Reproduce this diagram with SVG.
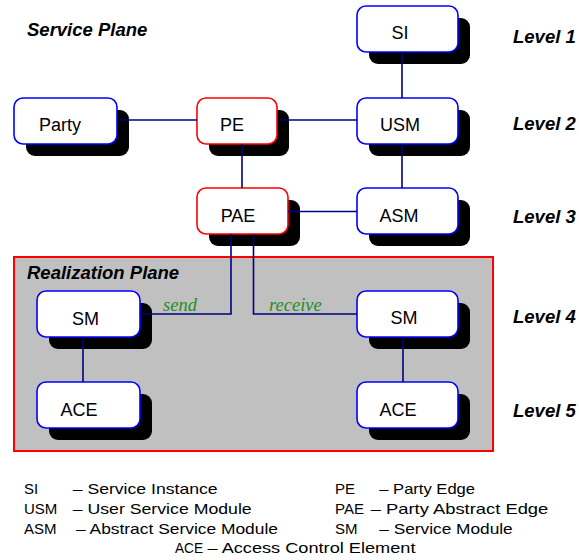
<svg xmlns="http://www.w3.org/2000/svg" width="579" height="560" viewBox="0 0 579 560">
<style>
.sh{fill:#000}
.bb{fill:#fff;stroke:#0000ff;stroke-width:1.6}
.rb{fill:#fff;stroke:#ff0000;stroke-width:1.6}
.nt{font-family:"Liberation Sans",Arial,sans-serif;font-size:18px;fill:#000;text-anchor:middle}
.ttl{font-family:"Liberation Sans",Arial,sans-serif;font-size:18.5px;font-weight:bold;font-style:italic;fill:#000}
.lbl{font-family:"Liberation Serif","Times New Roman",serif;font-size:18.5px;font-style:italic;fill:#1f8f1f}
.lg{font-family:"Liberation Sans",Arial,sans-serif;font-size:15px;fill:#000}
.cn{fill:none;stroke:#000080;stroke-width:1.6}
</style>
<rect id="realization-plane" x="14" y="257" width="479" height="194" fill="#c0c0c0" stroke="#ff0000" stroke-width="2"/>
<text class="ttl" x="27" y="36">Service Plane</text>
<text class="ttl" x="27" y="279">Realization Plane</text>
<g id="levels">
<text class="ttl" x="513" y="43">Level 1</text>
<text class="ttl" x="513" y="130">Level 2</text>
<text class="ttl" x="513" y="223">Level 3</text>
<text class="ttl" x="513" y="323">Level 4</text>
<text class="ttl" x="513" y="417">Level 5</text>
</g>
<g id="node-SI"><rect class="sh" x="369" y="18" width="101" height="46" rx="9"/><rect class="bb" x="357" y="6" width="101" height="46" rx="9"/><text class="nt" x="400" y="39">SI</text></g>
<g id="node-USM"><rect class="sh" x="369" y="110" width="101" height="46" rx="9"/><rect class="bb" x="357" y="98" width="101" height="46" rx="9"/><text class="nt" x="400" y="131">USM</text></g>
<g id="node-Party"><rect class="sh" x="26" y="110" width="103" height="46" rx="9"/><rect class="bb" x="14" y="98" width="103" height="46" rx="9"/><text class="nt" x="60" y="131">Party</text></g>
<g id="node-PE"><rect class="sh" x="209" y="110" width="80" height="46" rx="9"/><rect class="rb" x="197" y="98" width="80" height="46" rx="9"/><text class="nt" x="232" y="131">PE</text></g>
<g id="node-PAE"><rect class="sh" x="209" y="200" width="91" height="46" rx="9"/><rect class="rb" x="197" y="188" width="91" height="46" rx="9"/><text class="nt" x="238" y="222">PAE</text></g>
<g id="node-ASM"><rect class="sh" x="369" y="200" width="101" height="46" rx="9"/><rect class="bb" x="357" y="188" width="101" height="46" rx="9"/><text class="nt" x="399" y="222">ASM</text></g>
<g id="node-SM1"><rect class="sh" x="49" y="303" width="103" height="46" rx="9"/><rect class="bb" x="37" y="291" width="103" height="46" rx="9"/><text class="nt" x="85.5" y="325">SM</text></g>
<g id="node-ACE1"><rect class="sh" x="49" y="394" width="103" height="46" rx="9"/><rect class="bb" x="37" y="382" width="103" height="46" rx="9"/><text class="nt" x="79" y="416">ACE</text></g>
<g id="node-SM2"><rect class="sh" x="369" y="303" width="101" height="46" rx="9"/><rect class="bb" x="357" y="291" width="101" height="46" rx="9"/><text class="nt" x="404" y="324">SM</text></g>
<g id="node-ACE2"><rect class="sh" x="369" y="394" width="101" height="46" rx="9"/><rect class="bb" x="357" y="382" width="101" height="46" rx="9"/><text class="nt" x="398" y="416">ACE</text></g>
<g id="connectors">
<path class="cn" d="M117,120 H197"/>
<path class="cn" d="M277,120 H357"/>
<path class="cn" d="M402,52 V98"/>
<path class="cn" d="M402,144 V188"/>
<path class="cn" d="M242,144 V188"/>
<path class="cn" d="M288,211.5 H357"/>
<path class="cn" d="M231,234 V314 H140"/>
<path class="cn" d="M253.5,234 V314 H357"/>
<path class="cn" d="M83,337 V382"/>
<path class="cn" d="M403,337 V382"/>
<text class="lbl" x="163" y="311">send</text>
<text class="lbl" x="269" y="311">receive</text>
</g>
<g id="legend">
<text class="lg" x="24" y="494">SI</text><text class="lg" x="72.7" y="494" textLength="145" lengthAdjust="spacingAndGlyphs">– Service Instance</text>
<text class="lg" x="24" y="514">USM</text><text class="lg" x="72.7" y="514" textLength="179" lengthAdjust="spacingAndGlyphs">– User Service Module</text>
<text class="lg" x="24" y="534">ASM</text><text class="lg" x="76" y="534" textLength="202" lengthAdjust="spacingAndGlyphs">– Abstract Service Module</text>
<text class="lg" x="335" y="494">PE</text><text class="lg" x="379.3" y="494" textLength="95.7" lengthAdjust="spacingAndGlyphs">– Party Edge</text>
<text class="lg" x="335" y="514">PAE</text><text class="lg" x="370.7" y="514" textLength="177.6" lengthAdjust="spacingAndGlyphs">– Party Abstract Edge</text>
<text class="lg" x="335" y="534">SM</text><text class="lg" x="379.3" y="534" textLength="133.4" lengthAdjust="spacingAndGlyphs">– Service Module</text>
<text class="lg" x="175" y="553" textLength="28" lengthAdjust="spacingAndGlyphs">ACE</text><text class="lg" x="207.5" y="553" textLength="208" lengthAdjust="spacingAndGlyphs">– Access Control Element</text>
</g>
</svg>
